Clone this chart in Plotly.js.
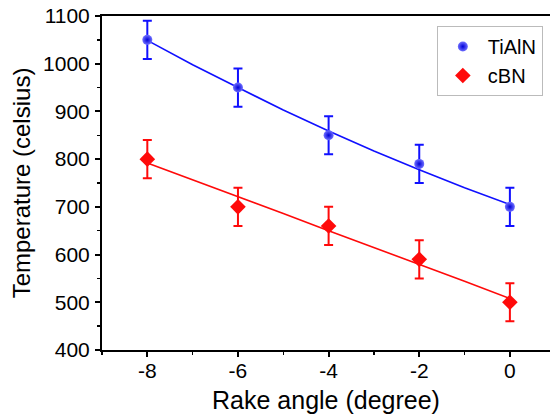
<!DOCTYPE html>
<html>
<head>
<meta charset="utf-8">
<script src="https://cdn.plot.ly/plotly-3.0.1.min.js"></script>
<style>html,body{margin:0;padding:0;background:#fff}#chart{width:550px;height:417px}</style>
</head>
<body>
<div id="chart"></div>
<script>
var rakeAngle = [-8, -6, -4, -2, 0];
var tialnTemp = [1050, 950, 850, 790, 700];
var tialnErr = [40, 40, 40, 40, 40];
var cbnTemp = [800, 700, 660, 590, 500];
var cbnErr = [40, 40, 40, 40, 40];
var fitX = [-8, -7, -6, -5, -4, -3, -2, -1, 0];
var tialnFit = [1049, 998, 950, 903, 859, 817, 778, 740, 705];
var cbnFit = [792, 757, 721, 686, 650, 615, 579, 544, 508];
var xTicks = [-8, -6, -4, -2, 0];
var yTicks = [400, 500, 600, 700, 800, 900, 1000, 1100];

var blue = '#1010ff';
var red = '#ff0a0a';

var traces = [
  {x: fitX, y: tialnFit, mode: 'lines', line: {color: blue, width: 1.6}, showlegend: false, hoverinfo: 'skip'},
  {x: fitX, y: cbnFit, mode: 'lines', line: {color: red, width: 1.6}, showlegend: false, hoverinfo: 'skip'},
  {x: rakeAngle, y: tialnTemp, name: 'TiAlN', mode: 'markers',
   marker: {symbol: 'circle', size: 10, color: '#7070ff', gradient: {type: 'radial', color: '#0000d8'}, line: {width: 0}},
   error_y: {type: 'data', array: tialnErr, visible: true, color: blue, thickness: 2, width: 4.5}},
  {x: rakeAngle, y: cbnTemp, name: 'cBN', mode: 'markers',
   marker: {symbol: 'diamond', size: 12, color: red, line: {width: 0}},
   error_y: {type: 'data', array: cbnErr, visible: true, color: red, thickness: 2, width: 4.5}}
];

var fontFam = 'Arial, "Liberation Sans", sans-serif';
var layout = {
  width: 550, height: 417,
  margin: {l: 102, r: 0, t: 16, b: 67},
  paper_bgcolor: '#fff', plot_bgcolor: '#fff',
  font: {family: fontFam, color: '#000'},
  showlegend: true,
  legend: {x: 0.984, y: 0.97, xanchor: 'right', yanchor: 'top', bgcolor: '#fff',
    bordercolor: '#bbbbbb', borderwidth: 1, font: {size: 20, family: fontFam}, tracegroupgap: 0,
    itemwidth: 40},
  xaxis: {
    range: [-9, 0.885], tickmode: 'array', tickvals: xTicks, ticktext: xTicks.map(String),
    showgrid: false, zeroline: false, showline: true, linecolor: '#000', linewidth: 2, mirror: true,
    ticks: 'outside', ticklen: 5, tickwidth: 2, tickcolor: '#000',
    tickfont: {size: 21, family: fontFam}, ticklabelstandoff: -4,
    minor: {dtick: 1, ticklen: 3, tickwidth: 1.5, tickcolor: '#000', showgrid: false},
    title: {text: 'Rake angle (degree)', font: {size: 25, family: fontFam}, standoff: 10}
  },
  yaxis: {
    range: [400, 1100], tickmode: 'array', tickvals: yTicks, ticktext: yTicks.map(String),
    showgrid: false, zeroline: false, showline: true, linecolor: '#000', linewidth: 2,
    ticks: 'outside', ticklen: 5, tickwidth: 2, tickcolor: '#000',
    tickfont: {size: 21, family: fontFam}, ticklabelstandoff: 1,
    minor: {dtick: 50, ticklen: 3, tickwidth: 1.5, tickcolor: '#000', showgrid: false},
    title: {text: 'Temperature (celsius)', font: {size: 24, family: fontFam}, standoff: 6}
  }
};

Plotly.newPlot('chart', traces, layout, {displayModeBar: false, staticPlot: true});
</script>
</body>
</html>
